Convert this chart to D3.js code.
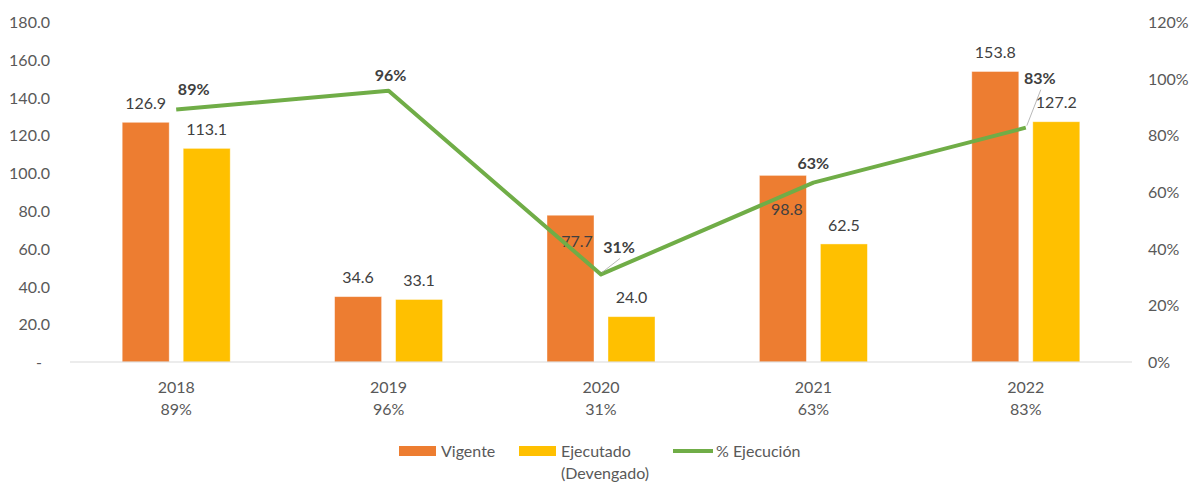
<!DOCTYPE html>
<html>
<head>
<meta charset="utf-8">
<script src="https://cdn.jsdelivr.net/npm/d3@7"></script>
<style>
  html, body { margin: 0; padding: 0; background: #fff; }
  svg { display: block; font-family: Lato, "Open Sans", sans-serif; }
</style>
</head>
<body>
<svg id="chart" width="1190" height="482"></svg>
<script>
// ---- data ----
const categories = ["2018", "2019", "2020", "2021", "2022"];
const vigente    = [126.9, 34.6, 77.7, 98.8, 153.8];
const ejecutado  = [113.1, 33.1, 24.0, 62.5, 127.2];
const pctEjec    = [0.891, 0.957, 0.309, 0.633, 0.827];
const pctLabels  = ["89%", "96%", "31%", "63%", "83%"];
const leftTicks  = [0, 20, 40, 60, 80, 100, 120, 140, 160, 180];
const rightTicks = [0, 0.2, 0.4, 0.6, 0.8, 1.0, 1.2];
const seriesNames = ["Vigente", "Ejecutado"];

// ---- layout (label nudges, px) ----
const vigLabelNudge = [[0,0],[0,0],[6.5,45],[4,53],[0,0]];
const pctLabelNudge = [[17.5,-20],[2,-15],[18,-27],[0,-19],[14,-49]];
const pctLeader     = [false, false, true, false, true];

const colors = { Vigente: "#ED7D31", Ejecutado: "#FFC000", line: "#70AD47" };
const textColor = "#595959";
const labelColor = "#404040";
const fs = 16;

const svg = d3.select("#chart");
const plotL = 70, plotR = 1132, plotT = 22, plotB = 362;

const x = d3.scaleBand().domain(categories).range([plotL, plotR]).paddingInner(0).paddingOuter(0);
const bw = x.bandwidth();
const xs = d3.scaleBand().domain(seriesNames).range([0, bw]).paddingInner(14/61).paddingOuter(0.8557);
const y = d3.scaleLinear().domain([0, 180]).range([plotB, plotT]);
const y2 = d3.scaleLinear().domain([0, 1.2]).range([plotB, plotT]);

// left axis
const yAxis = d3.axisLeft(y).tickValues(leftTicks).tickSize(0).tickPadding(0)
  .tickFormat(d => d === 0 ? "-" : d.toFixed(1));
const gy = svg.append("g").attr("transform", `translate(50,0)`).call(yAxis);
gy.select(".domain").remove();
gy.selectAll("text").attr("fill", textColor).style("font-size", fs + "px")
  .style("font-family", "Lato, sans-serif").attr("dy", "0.35em").attr("x", 0)
  .filter(d => d === 0).attr("x", -8);

// right axis
const y2Axis = d3.axisRight(y2).tickValues(rightTicks).tickSize(0).tickPadding(0)
  .tickFormat(d => Math.round(d * 100) + "%");
const gy2 = svg.append("g").attr("transform", `translate(1148,0)`).call(y2Axis);
gy2.select(".domain").remove();
gy2.selectAll("text").attr("fill", textColor).style("font-size", fs + "px")
  .style("font-family", "Lato, sans-serif").attr("dy", "0.35em").attr("x", 0);

// bars
const rows = categories.map((c, i) => ({ c, i, Vigente: vigente[i], Ejecutado: ejecutado[i] }));
const groups = svg.append("g").selectAll("g").data(rows).join("g")
  .attr("transform", d => `translate(${x(d.c)},0)`);
groups.selectAll("rect").data(d => seriesNames.map(s => ({ s, v: d[s], i: d.i }))).join("rect")
  .attr("x", d => xs(d.s)).attr("width", xs.bandwidth())
  .attr("y", d => y(d.v)).attr("height", d => y(0) - y(d.v))
  .attr("fill", d => colors[d.s])
  .attr("stroke", "#ffffff").attr("stroke-opacity", 0.5).attr("stroke-width", 0.8);

// baseline
svg.append("line").attr("x1", plotL).attr("x2", plotR).attr("y1", y(0)).attr("y2", y(0))
  .attr("stroke", "#d9d9d9").attr("stroke-width", 1);

// bar labels
groups.selectAll("text.val").data(d => seriesNames.map(s => ({ s, v: d[s], i: d.i }))).join("text")
  .attr("class", "val")
  .attr("x", d => xs(d.s) + xs.bandwidth() / 2 + (d.s === "Vigente" ? vigLabelNudge[d.i][0] : 0))
  .attr("y", d => y(d.v) - 19 + (d.s === "Vigente" ? vigLabelNudge[d.i][1] : 0))
  .attr("dy", "0.35em").attr("text-anchor", "middle")
  .attr("fill", labelColor).style("font-size", fs + "px")
  .text(d => d.v.toFixed(1));

// line
const cx = c => x(c) + bw / 2;
const line = d3.line().x((d, i) => cx(categories[i])).y(d => y2(d));
svg.append("path").datum(pctEjec).attr("d", line)
  .attr("fill", "none").attr("stroke", colors.line).attr("stroke-width", 4)
  .attr("stroke-linejoin", "round");

// leader lines + pct labels
pctEjec.forEach((p, i) => {
  const px = cx(categories[i]), py = y2(p);
  const lx = px + pctLabelNudge[i][0], ly = py + pctLabelNudge[i][1];
  if (pctLeader[i]) {
    svg.append("line").attr("x1", px + 1).attr("y1", py - 2)
      .attr("x2", lx + 1).attr("y2", ly + 11)
      .attr("stroke", "#a6a6a6").attr("stroke-width", 0.8);
  }
  svg.append("text").attr("x", lx).attr("y", ly).attr("dy", "0.35em")
    .attr("text-anchor", "middle").attr("fill", labelColor)
    .style("font-size", fs + "px").style("font-weight", "bold")
    .text(pctLabels[i]);
});

// category labels
const cat = svg.append("g").selectAll("text").data(categories).join("text")
  .attr("x", d => cx(d)).attr("text-anchor", "middle")
  .attr("fill", textColor).style("font-size", fs + "px");
cat.append("tspan").attr("x", d => cx(d)).attr("y", 387).attr("dy", "0.35em").text(d => d);
cat.append("tspan").attr("x", d => cx(d)).attr("y", 409).attr("dy", "0.35em").text((d, i) => pctLabels[i]);

// legend
const lg = svg.append("g");
lg.append("rect").attr("x", 399).attr("y", 446).attr("width", 37).attr("height", 10).attr("fill", colors.Vigente);
lg.append("text").attr("x", 441).attr("y", 451).attr("dy", "0.35em").attr("fill", textColor)
  .style("font-size", fs + "px").text("Vigente");
lg.append("rect").attr("x", 519).attr("y", 446).attr("width", 37).attr("height", 10).attr("fill", colors.Ejecutado);
const t2 = lg.append("text").attr("fill", textColor).style("font-size", fs + "px");
t2.append("tspan").attr("x", 561).attr("y", 451).attr("dy", "0.35em").text("Ejecutado");
t2.append("tspan").attr("x", 561).attr("y", 473).attr("dy", "0.35em").text("(Devengado)");
lg.append("line").attr("x1", 673).attr("x2", 713).attr("y1", 451).attr("y2", 451)
  .attr("stroke", colors.line).attr("stroke-width", 4);
lg.append("text").attr("x", 716).attr("y", 451).attr("dy", "0.35em").attr("fill", textColor)
  .style("font-size", fs + "px").text("% Ejecución");
</script>
</body>
</html>
